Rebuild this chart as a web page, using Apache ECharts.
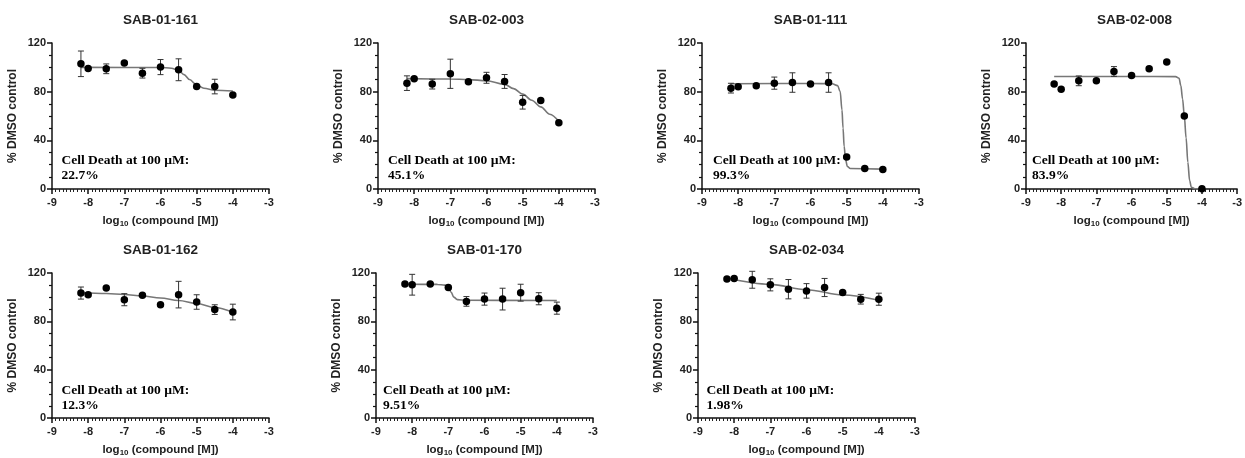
<!DOCTYPE html>
<html>
<head>
<meta charset="utf-8">
<title>Cell viability dose-response</title>
<script src="https://cdn.jsdelivr.net/npm/echarts/dist/echarts.min.js"></script>
<style>
  html, body { margin: 0; padding: 0; background: #fff; }
  #main { width: 1245px; height: 458px; }
</style>
</head>
<body>
<div id="main"></div>
<script>
// ---- data ----
const compounds = ['SAB-01-161', 'SAB-02-003', 'SAB-01-111', 'SAB-02-008', 'SAB-01-162', 'SAB-01-170', 'SAB-02-034'];
const cellDeath = ['22.7%', '45.1%', '99.3%', '83.9%', '12.3%', '9.51%', '1.98%'];

// log10 concentration of each dose
const logConc = [-8.2, -8, -7.5, -7, -6.5, -6, -5.5, -5, -4.5, -4];

// mean % DMSO control, one row per compound
const means = [
  [102.9, 99.1, 98.8, 103.5, 95.2, 100.2, 98.0, 84.2, 84.2, 77.3],
  [87.0, 90.6, 86.2, 94.7, 88.1, 91.4, 88.4, 71.3, 72.7, 54.5],
  [82.9, 84.0, 84.8, 87.0, 87.5, 86.2, 87.5, 26.4, 16.8, 16.0],
  [86.4, 82.0, 88.9, 88.9, 96.6, 93.3, 98.8, 104.3, 60.0, 0.3],
  [103.4, 102.1, 107.6, 97.9, 101.5, 93.8, 102.1, 96.0, 89.7, 87.7],
  [110.9, 110.3, 110.9, 108.1, 96.5, 98.4, 98.4, 103.7, 98.7, 90.9],
  [115.0, 115.5, 114.4, 110.2, 106.6, 105.2, 108.0, 103.8, 98.3, 98.3]
];

// error (SD) of each mean
const errors = [
  [10.5, 2.5, 4, 2, 4, 6.2, 9, 1, 6, 1.5],
  [6, 2, 4, 12, 1.5, 4.5, 5.7, 5.6, 2, 3],
  [4, 2, 3, 5, 8, 1.5, 8, 1.5, 1, 1],
  [3, 3, 4, 3, 4, 1.5, 1.5, 1.5, 1.5, 1],
  [5, 2, 3, 5, 1.5, 2, 11, 6, 4, 6.5],
  [1.5, 8.6, 3, 3, 4, 5, 9, 7, 5, 5],
  [1.5, 1.5, 7, 5, 8, 6, 7.5, 1.5, 4, 5]
];

// fitted curves
const fitX = [
  [-8.2, -6, -5.7, -5.5, -5.35, -5.2, -5.0, -4.8, -4.5, -4],
  [-8.2, -7, -6.5, -6, -5.5, -5.25, -5, -4.75, -4.5, -4.25, -4],
  [-8.2, -6, -5.4, -5.25, -5.18, -5.13, -5.1, -5.07, -5.03, -4.98, -4.9, -4],
  [-8.2, -6, -4.75, -4.65, -4.6, -4.55, -4.5, -4.45, -4.4, -4.35, -4.3, -4.2, -4],
  [-8.2, -7.5, -7, -6.5, -6, -5.5, -5, -4.5, -4],
  [-8.2, -7.3, -7.1, -7.0, -6.92, -6.85, -6.75, -6.5, -4],
  [-8.2, -7, -6, -5, -4]
];
const fitY = [
  [100, 99.9, 99.3, 97.5, 94, 90, 85.5, 82.8, 81.2, 80.6],
  [90.7, 90.4, 89.9, 89, 86, 82.5, 78, 73, 67.5, 61.5, 55.5],
  [86.5, 86.7, 86.5, 85, 80, 65, 50, 35, 24, 18.5, 16.8, 16.3],
  [92.5, 92.5, 92.4, 91, 85, 74, 60, 42, 22, 7, 1.5, 0.2, 0],
  [103.6, 103, 102.2, 101, 99.3, 97.3, 94.8, 91.5, 87.5],
  [110.7, 110.6, 110, 108.5, 104, 100, 98, 97.4, 97.3],
  [115.8, 110.6, 106.2, 101.8, 97.4]
];

const yTicks = [0, 40, 80, 120];

// ---- panel placement ----
const panelLeft = [52, 378, 702, 1026, 52, 376, 698];
const panelTop = [43, 43, 43, 43, 273, 273, 273];
const noteDx = [9.5, 10, 11, 6, 9.5, 7, 8.5];
const panelW = 217;
const panelH = 146;

const sans = '"Liberation Sans", Arial, sans-serif';
const serif = '"Liberation Serif", "Times New Roman", serif';

const myChart = echarts.init(document.getElementById('main'));

const grids = [], xAxes = [], yAxes = [], series = [], graphics = [];

compounds.forEach((name, i) => {
  grids.push({ left: panelLeft[i], top: panelTop[i], width: panelW, height: panelH });

  xAxes.push({
    type: 'value', gridIndex: i, min: -9, max: -3, interval: 1,
    name: '{a|log}{s|10}{a| (compound [M])}',
    nameLocation: 'middle', nameGap: 25,
    nameTextStyle: {
      rich: {
        a: { fontFamily: sans, fontWeight: 'bold', fontSize: 11.5, color: '#222' },
        s: { fontFamily: sans, fontWeight: 'bold', fontSize: 8, color: '#222', padding: [6, 0, 0, 0] }
      }
    },
    axisLine: { show: true, onZero: false, lineStyle: { color: '#111', width: 1.5 } },
    axisTick: { show: true, length: 5, lineStyle: { color: '#111', width: 1.5 } },
    minorTick: { show: true, splitNumber: 10, length: 3, lineStyle: { color: '#222', width: 1 } },
    axisLabel: { fontFamily: sans, fontWeight: 'bold', fontSize: 11, color: '#222', margin: 8 },
    splitLine: { show: false }
  });

  yAxes.push({
    type: 'value', gridIndex: i, min: yTicks[0], max: yTicks[yTicks.length - 1], interval: 40,
    name: '% DMSO control',
    nameLocation: 'middle', nameGap: 33,
    nameTextStyle: { fontFamily: sans, fontWeight: 'bold', fontSize: 12, color: '#222' },
    axisLine: { show: true, lineStyle: { color: '#111', width: 1.5 } },
    axisTick: { show: true, length: 5, lineStyle: { color: '#111', width: 1.5 } },
    minorTick: { show: true, splitNumber: 4, length: 3, lineStyle: { color: '#111', width: 1.2 } },
    axisLabel: { fontFamily: sans, fontWeight: 'bold', fontSize: 11, color: '#222', margin: 6 },
    splitLine: { show: false }
  });

  // fitted curve
  series.push({
    type: 'line', xAxisIndex: i, yAxisIndex: i,
    data: fitX[i].map((x, k) => [x, fitY[i][k]]),
    showSymbol: false, smooth: 0.35, smoothMonotone: 'x',
    lineStyle: { color: '#777', width: 1.6 },
    z: 1, silent: true
  });

  // error bars
  series.push({
    type: 'custom', xAxisIndex: i, yAxisIndex: i,
    data: logConc.map((x, k) => [x, means[i][k] - errors[i][k], means[i][k] + errors[i][k]]),
    encode: { x: 0, y: [1, 2] },
    renderItem: (params, api) => {
      const lo = api.coord([api.value(0), api.value(1)]);
      const hi = api.coord([api.value(0), api.value(2)]);
      if (lo[1] - hi[1] < 8) return { type: 'group', children: [] };
      const cap = 3;
      const st = { stroke: '#333', lineWidth: 1 };
      return {
        type: 'group',
        children: [
          { type: 'line', shape: { x1: lo[0], y1: lo[1], x2: hi[0], y2: hi[1] }, style: st },
          { type: 'line', shape: { x1: hi[0] - cap, y1: hi[1], x2: hi[0] + cap, y2: hi[1] }, style: st },
          { type: 'line', shape: { x1: lo[0] - cap, y1: lo[1], x2: lo[0] + cap, y2: lo[1] }, style: st }
        ]
      };
    },
    z: 2, silent: true
  });

  // mean points
  series.push({
    type: 'scatter', xAxisIndex: i, yAxisIndex: i,
    data: logConc.map((x, k) => [x, means[i][k]]),
    symbolSize: 7.5,
    itemStyle: { color: '#000', opacity: 1 },
    z: 3, silent: true
  });

  // panel title
  graphics.push({
    type: 'text', x: panelLeft[i] + panelW / 2, y: panelTop[i] - 23,
    style: {
      text: name, font: 'bold 13.5px ' + sans, fill: '#222',
      textAlign: 'center', textVerticalAlign: 'middle'
    }
  });

  // cell death note
  graphics.push({
    type: 'text', x: panelLeft[i] + noteDx[i], y: panelTop[i] + panelH - 36,
    style: {
      text: 'Cell Death at 100 µM:\n' + cellDeath[i],
      font: 'bold 13.5px ' + serif, fill: '#000', lineHeight: 15,
      textAlign: 'left', textVerticalAlign: 'top'
    }
  });
});

myChart.setOption({
  animation: false,
  backgroundColor: '#fff',
  grid: grids,
  xAxis: xAxes,
  yAxis: yAxes,
  series: series,
  graphic: graphics
});
</script>
</body>
</html>
